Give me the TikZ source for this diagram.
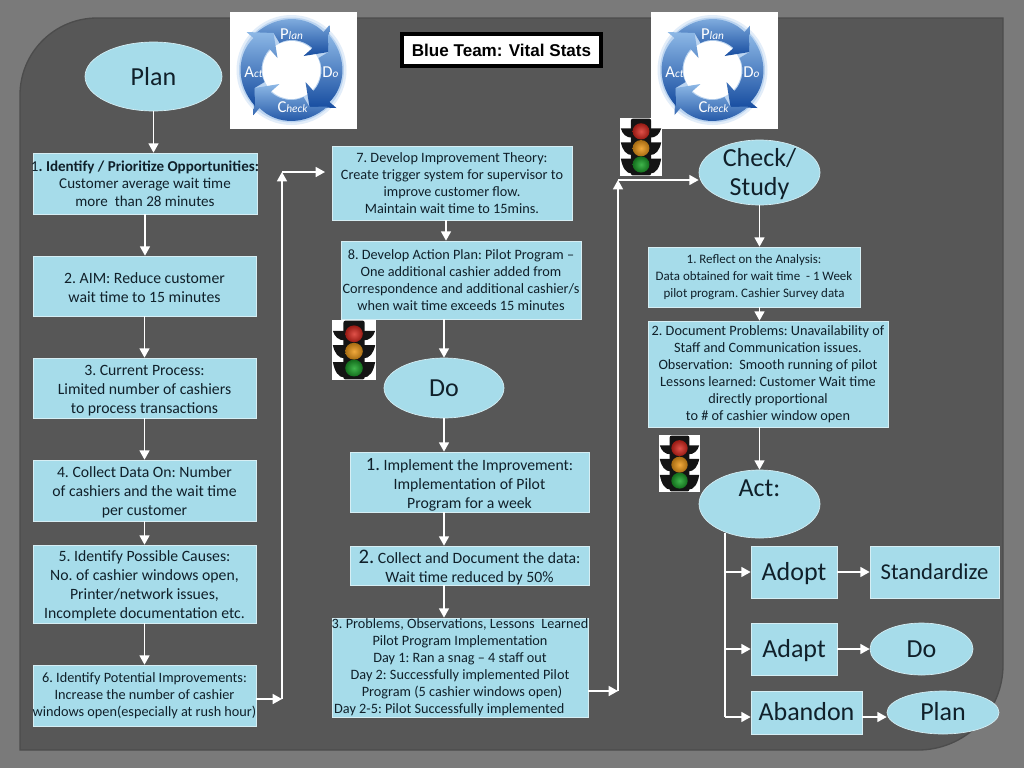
\documentclass[tikz,border=0pt]{standalone}
\usepackage{fontspec}
\setmainfont{Carlito}
\newfontfamily\titlefont{Liberation Sans}
\usetikzlibrary{shapes.geometric,arrows.meta}
\definecolor{pagegrey}{HTML}{7A7A7A}
\definecolor{panelgrey}{HTML}{575757}
\definecolor{paneledge}{HTML}{4C4C4C}
\definecolor{boxblue}{HTML}{A6DCEA}
\definecolor{boxedge}{HTML}{D6EEF4}
\definecolor{inktext}{HTML}{10202A}
\definecolor{ringlight}{HTML}{8DB8E6}
\definecolor{ringdark}{HTML}{174DA0}
\definecolor{ringmid}{HTML}{3F7CC8}
\definecolor{lampred}{HTML}{D8261C}
\definecolor{lampamber}{HTML}{EE9A1A}
\definecolor{lampgreen}{HTML}{1EA82C}
\tikzset{
  flow/.style={draw=white,line width=1.15pt,-{Triangle[length=7pt,width=7.5pt,fill=white]}},
  plainline/.style={draw=white,line width=1.15pt},
  boxbase/.style={draw=boxedge,line width=.5pt,fill=boxblue,inner sep=0pt,text=inktext,align=center},
  small/.style={font=\frenchspacing\fontsize{10.7}{12.75}\selectfont},
  smallb/.style={font=\frenchspacing\fontsize{9.7}{13}\selectfont},
  medi/.style={font=\frenchspacing\fontsize{11.3}{13.3}\selectfont},
  large/.style={font=\frenchspacing\fontsize{11.8}{14.3}\selectfont},
  big/.style={font=\fontsize{19.5}{22}\selectfont},
  bigone/.style={big,text height=12pt,text depth=0pt},
  mid/.style={font=\fontsize{17}{20}\selectfont,text height=11pt,text depth=0pt},
  logotext/.style={text=white,inner sep=0pt,font=\fontsize{12.5}{12.5}\selectfont},
}
\newcommand{\lift}[1]{\rule{0pt}{#1pt}}
\newcommand{\boxn}[6][small]{%
  \pgfmathsetmacro{\cxx}{(#3+#5)/2}\pgfmathsetmacro{\cyy}{(#4+#6)/2}%
  \pgfmathsetmacro{\www}{(#5-#3)*0.75}\pgfmathsetmacro{\hhh}{(#6-#4)*0.75}%
  \node[boxbase,#1,minimum width=\www pt,minimum height=\hhh pt] (#2) at (\cxx,\cyy)}
\newcommand{\elln}[6][bigone]{%
  \pgfmathsetmacro{\cxx}{(#3+#5)/2}\pgfmathsetmacro{\cyy}{(#4+#6)/2}%
  \pgfmathsetmacro{\www}{(#5-#3)*0.75}\pgfmathsetmacro{\hhh}{(#6-#4)*0.75}%
  \node[boxbase,#1,ellipse,minimum width=\www pt,minimum height=\hhh pt] (#2) at (\cxx,\cyy)}
\newcommand{\pdcalogo}[3]{%
  \fill[white] (#2-61.5,#3-58) rectangle (#2+65.5,#3+59);
  \begin{scope}[shift={(#2,#3)}]
    \fill[ringlight!25] (0,0) circle [radius=55];
    \fill[ringlight!60] (0,0) circle [radius=52.5];
    \fill[white] (0,0) circle [radius=29];
    \foreach \ang in {0,-90,-180,-270}{
      \shade[rotate=\ang,left color=ringlight,middle color=ringmid,right color=ringdark,shading angle=0]
        (-36,-36.5) .. controls (-14,-56) and (15,-55) .. (32,-38) -- (38,-45) -- (37,-18) -- (12,-14) -- (21,-22)
        .. controls (11,-31) and (-3,-32) .. (-12,-27) -- (-18,-37) -- cycle;
    }
    \node[logotext] (#1p) at (0,-36) {P{\fontsize{8.5}{8.5}\selectfont\itshape lan}};
    \node[logotext] (#1d) at (39,2) {D{\fontsize{8.5}{8.5}\selectfont\itshape o}};
    \node[logotext] (#1c) at (1,37) {C{\fontsize{8.5}{8.5}\selectfont\itshape heck}};
    \node[logotext] (#1a) at (-38,2) {A{\fontsize{8.5}{8.5}\selectfont\itshape ct}};
  \end{scope}}
\newcommand{\tlight}[4]{%
  \begin{scope}[shift={(#1,#2)},x=#3*0.0075pt,y=-#4*0.0075pt]
    \fill[white] (0,0) rectangle (100,100);
    \foreach \yy/\hh in {18/16,42/22,70/26}{
      \fill[black!92] (2,\yy) -- (98,\yy) .. controls (94,\yy+0.6*\hh) and (86,\yy+\hh) .. (70,\yy+\hh) -- (30,\yy+\hh) .. controls (14,\yy+\hh) and (6,\yy+0.6*\hh) .. (2,\yy) -- cycle;
    }
    \fill[black!92,rounded corners=1.5pt] (26,1) rectangle (74,99);
    \shade[inner color=lampred!80!white,outer color=lampred!70!black] (50,23) ellipse [x radius=20,y radius=14];
    \shade[inner color=lampamber!85!white,outer color=lampamber!70!black] (50,52) ellipse [x radius=20,y radius=14];
    \shade[inner color=lampgreen!85!white,outer color=lampgreen!65!black] (50,80) ellipse [x radius=20,y radius=14];
  \end{scope}}
\begin{document}
\begin{tikzpicture}[x=0.75pt,y=-0.75pt]
\useasboundingbox (0,0) rectangle (1024,768);
\fill[pagegrey] (0,0) rectangle (1024,768);
\draw[fill=panelgrey,draw=paneledge,line width=1pt]
  (97,18) -- (1003,18) -- (1003,665) arc[start angle=0,end angle=90,radius=85] -- (20,750) -- (20,95) arc[start angle=180,end angle=270,radius=77] -- cycle;
\pdcalogo{la}{291.5}{70}
\pdcalogo{lb}{712.5}{70}
\tlight{620}{118}{42}{58}
\tlight{332}{320}{44}{60}
\tlight{659}{435}{41}{57}
% title
\node[draw=black,line width=3pt,fill=white,minimum width=149pt,minimum height=23.5pt,inner sep=0pt,font=\titlefont\bfseries\fontsize{12.8}{14}\selectfont] (title) at (501.5,50) {Blue Team: Vital Stats};
% Plan column
\elln[bigone,text height=14pt]{plan}{85}{42}{222}{111} {Plan};
\boxn[medi]{b1}{33}{153}{257}{214} {\makebox[0pt]{1\textbf{. Identify / Prioritize Opportunities:}}\\Customer average wait time\\more\ \ than 28 minutes};
\boxn[large]{b2}{33}{256}{256}{316} {\lift{10}2. AIM: Reduce customer\\wait time to 15 minutes};
\boxn[large]{b3}{33}{358}{256}{418} {\lift{11}3. Current Process:\\Limited number of cashiers\\to process transactions};
\boxn[large]{b4}{33}{460}{256}{521} {\lift{11}4. Collect Data On: Number\\of cashiers and the wait time\\per customer};
\boxn[large]{b5}{33}{545}{256}{623} {\lift{11}5. Identify Possible Causes:\\No. of cashier windows open,\\Printer/network issues,\\Incomplete documentation etc.};
\boxn{b6}{33}{665}{256}{726} {6. Identify Potential Improvements:\\Increase the number of cashier\\\makebox[0pt]{windows open(especially at rush hour)}};
% middle column
\boxn{b7}{332}{146}{572}{220} {7. Develop Improvement Theory:\\Create trigger system for supervisor to\\improve customer flow.\\Maintain wait time to 15mins.};
\boxn{b8}{341}{241}{581}{319} {8. Develop Action Plan: Pilot Program --\\One additional cashier added from\\Correspondence and additional cashier/s\\when wait time exceeds 15 minutes};
\elln{do}{384}{358}{504}{418} {Do};
\boxn[large]{i1}{350}{452}{589}{512} {\lift{13}{\fontsize{14}{12.75}\selectfont 1.} Implement the Improvement:\\Implementation of Pilot\\Program for a week};
\boxn[large]{i2}{350}{546}{589}{585} {\lift{13}{\fontsize{15.5}{12.75}\selectfont 2.} Collect and Document the data:\\Wait time reduced by 50\%};
\boxn{i3}{332}{618}{588}{717} {\makebox[0pt]{3. Problems, Observations, Lessons\ \ Learned}\\Pilot Program Implementation\\Day 1: Ran a snag -- 4 staff out\\Day 2: Successfully implemented Pilot\\\hspace*{3pt}Program (5 cashier windows open)\\\makebox[0pt]{\hspace*{-16pt}Day 2-5: Pilot Successfully implemented}};
% right column
\elln[big,inner sep=-8pt]{check}{699}{140}{820}{205} {\lift{15.5}Check/\\Study};
\boxn[smallb]{c1}{648}{247}{860}{307} {1. Reflect on the Analysis:\\Data obtained for wait time\ \ - 1 Week\\pilot program. Cashier Survey data};
\boxn{c2}{648}{321}{888}{427} {2. Document Problems: Unavailability of\\Staff and Communication issues.\\Observation:\ \ Smooth running of pilot\\Lessons learned: Customer Wait time\\directly proportional\\to \# of cashier window open};
\elln[big]{act}{699}{470}{820}{538} {\smash{\raisebox{5.4pt}{Act:}}};
\boxn[bigone]{adopt}{751}{546}{837}{598} {Adopt};
\boxn[bigone]{adapt}{751}{623}{837}{675} {Adapt};
\boxn[bigone]{abandon}{751}{691}{862}{734} {Abandon};
\boxn[mid]{std}{870}{546}{999}{598} {Standardize};
\elln{do2}{870}{623}{973}{675} {Do};
\elln{plan2}{887}{691}{999}{734} {Plan};
% junction coordinates
\coordinate (j1) at (282,699);
\coordinate (j2) at (282,172);
\coordinate (j3) at (325,172);
\coordinate (k1) at (618,691);
\coordinate (k2) at (618,180);
\coordinate (m0) at (725,533);
\coordinate (m3) at (725,717);
% connectors
\draw[flow] (plan.south) -- (plan.south |- b1.north);
\draw[flow] (b1.south -| 145,0) -- (b2.north -| 145,0);
\draw[flow] (b2.south) -- (b3.north);
\draw[flow] (b3.south) -- (b4.north);
\draw[flow] (b4.south) -- (b5.north);
\draw[flow] (b5.south) -- (b6.north);
\draw[flow] (b6.east |- j1) -- (j1);
\draw[flow] (j1) -- (j2);
\draw[flow] (j2) -- (j3);
\draw[flow] (b7.south -| 446,0) -- (b8.north -| 446,0);
\draw[flow] (do.north |- b8.south) -- (do.north);
\draw[flow] (do.south) -- (do.south |- i1.north);
\draw[flow] (do.south |- i1.south) -- (do.south |- i2.north);
\draw[flow] (do.south |- i2.south) -- (do.south |- i3.north);
\draw[flow] (i3.east |- k1) -- (k1);
\draw[flow] (k1) -- (k2);
\draw[flow] (k2) -- (check.west |- k2);
\draw[flow] (check.south) -- (check.south |- c1.north);
\draw[flow] (check.south |- c1.south) -- (check.south |- c2.north);
\draw[flow] (check.south |- c2.south) -- (act.north);
\draw[plainline] (m0) -- (m3);
\draw[flow] (m0 |- adopt.west) -- (adopt.west);
\draw[flow] (m0 |- adapt.west) -- (adapt.west);
\draw[flow] (m3) -- (abandon.west |- m3);
\draw[flow] (adopt.east) -- (std.west);
\draw[flow] (adapt.east) -- (do2.west);
\draw[flow] (abandon.east |- m3) -- (plan2.west |- m3);
\end{tikzpicture}
\end{document}
